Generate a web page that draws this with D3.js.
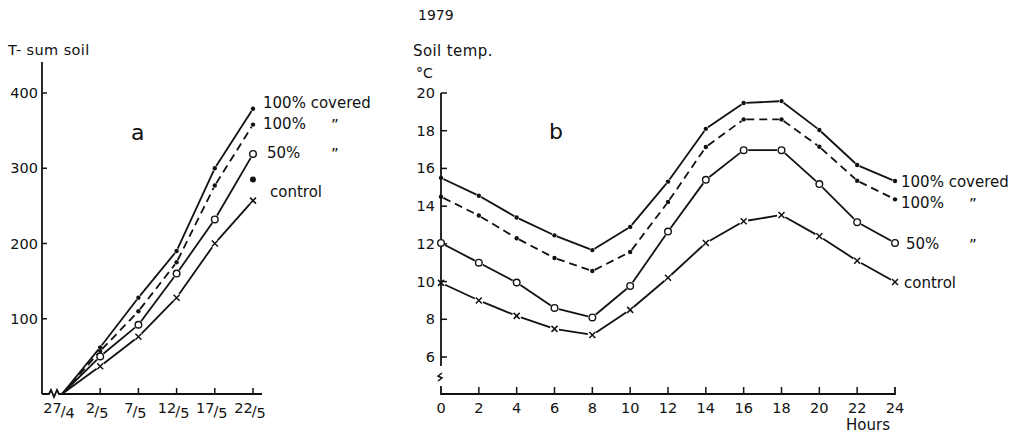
<!DOCTYPE html>
<html><head><meta charset="utf-8">
<script src="https://cdn.jsdelivr.net/npm/d3@7"></script>
<style>
html,body{margin:0;padding:0;background:#fff;}
svg{display:block;}
text{font-family:"DejaVu Sans",sans-serif;fill:#111;}
</style></head><body>
<svg id="c" width="1020" height="434"></svg>
<script>
// ---- Panel a data (T-sum soil) ----
const dateDays = [0, 5, 10, 15, 20, 25];
const dateNum = ["27", "2", "7", "12", "17", "22"];
const dateDen = ["4", "5", "5", "5", "5", "5"];
const aYTicks = [100, 200, 300, 400];
const aCovered100 = [0, 62, 128, 190, 300, 379];
const aDashed100 = [0, 57, 110, 175, 277, 358];
const aHalf50 = [0, 50, 92, 160, 232, 319];
const aControl = [0, 37, 76, 128, 200, 257];
const aExtraPoint = [25, 285];

// ---- Panel b data (Soil temp) ----
const hours = [0, 2, 4, 6, 8, 10, 12, 14, 16, 18, 20, 22, 24];
const bYTicks = [6, 8, 10, 12, 14, 16, 18, 20];
const bCovered100 = [15.5, 14.55, 13.4, 12.45, 11.67, 12.9, 15.3, 18.1, 19.47, 19.57, 18.04, 16.18, 15.33];
const bDashed100 = [14.5, 13.5, 12.3, 11.25, 10.56, 11.57, 14.22, 17.14, 18.6, 18.6, 17.15, 15.35, 14.36];
const bHalf50 = [12.05, 11.0, 9.95, 8.6, 8.1, 9.77, 12.65, 15.4, 16.97, 16.97, 15.17, 13.15, 12.05];
const bControl = [9.93, 9.0, 8.18, 7.49, 7.17, 8.5, 10.2, 12.05, 13.2, 13.53, 12.4, 11.1, 9.98];

const svg = d3.select("#c");
const ink = "#111";
const LW = 1.8;

function drawSeries(g, xs, ys, x, y, marker, dashed, skipFirstMarker) {
  const pts = xs.map((d, i) => [x(d), y(ys[i])]);
  const gap = m => m === "dot" ? 2.6 : 4.5;
  for (let i = 0; i < pts.length - 1; i++) {
    const [x1, y1] = pts[i], [x2, y2] = pts[i + 1];
    const dx = x2 - x1, dy = y2 - y1, L = Math.hypot(dx, dy);
    const g1 = (i === 0 && skipFirstMarker) ? 0 : gap(marker);
    const g2 = gap(marker);
    g.append("line")
      .attr("x1", x1 + dx / L * g1).attr("y1", y1 + dy / L * g1)
      .attr("x2", x2 - dx / L * g2).attr("y2", y2 - dy / L * g2)
      .attr("stroke", ink).attr("stroke-width", LW)
      .attr("stroke-dasharray", dashed ? "8,5" : null);
  }
  pts.forEach((p, i) => {
    if (i === 0 && skipFirstMarker) return;
    if (marker === "dot") {
      g.append("circle").attr("cx", p[0]).attr("cy", p[1]).attr("r", 2.2).attr("fill", ink);
    } else if (marker === "circle") {
      g.append("circle").attr("cx", p[0]).attr("cy", p[1]).attr("r", 3.3)
        .attr("fill", "#fff").attr("stroke", ink).attr("stroke-width", 1.4);
    } else {
      const s = 3;
      g.append("path").attr("d", `M${p[0]-s},${p[1]-s}L${p[0]+s},${p[1]+s}M${p[0]-s},${p[1]+s}L${p[0]+s},${p[1]-s}`)
        .attr("stroke", ink).attr("stroke-width", 1.5);
    }
  });
}

// ================= Panel a =================
const xA = d3.scaleLinear().domain([0, 25]).range([62, 253]);
const yA = d3.scaleLinear().domain([0, 400]).range([394, 93]);
const ga = svg.append("g");

ga.append("line").attr("x1", 42).attr("x2", 42).attr("y1", 62).attr("y2", 394).attr("stroke", ink).attr("stroke-width", 1.8);
aYTicks.forEach(t => {
  ga.append("line").attr("x1", 42).attr("x2", 47).attr("y1", yA(t)).attr("y2", yA(t)).attr("stroke", ink).attr("stroke-width", 1.5);
  ga.append("text").attr("x", 38).attr("y", yA(t) + 5).attr("text-anchor", "end").attr("font-size", 14.5).text(t);
});
ga.append("path").attr("d", `M42,394L49,394L51,390L54,397L57,390L59,394L262,394`)
  .attr("fill", "none").attr("stroke", ink).attr("stroke-width", 1.8);
dateDays.forEach((d, i) => {
  if (i > 0) ga.append("line").attr("x1", xA(d)).attr("x2", xA(d)).attr("y1", 394).attr("y2", 388).attr("stroke", ink).attr("stroke-width", 1.5);
  const t = ga.append("text").attr("x", xA(d) - 3).attr("y", 413).attr("text-anchor", "middle").attr("font-size", 14.5);
  t.append("tspan").text(dateNum[i]);
  t.append("tspan").attr("dy", 3).attr("dx", -1).text("/");
  t.append("tspan").attr("dy", 2).text(dateDen[i]);
});
ga.append("text").attr("x", 8).attr("y", 55).attr("font-size", 14.5).attr("letter-spacing", 0.4).text("T- sum soil");
ga.append("text").attr("x", 131).attr("y", 140).attr("font-size", 22).text("a");

drawSeries(ga, dateDays, aCovered100, xA, yA, "dot", false, true);
drawSeries(ga, dateDays, aDashed100, xA, yA, "dot", true, true);
drawSeries(ga, dateDays, aHalf50, xA, yA, "circle", false, true);
drawSeries(ga, dateDays, aControl, xA, yA, "cross", false, true);
ga.append("circle").attr("cx", xA(aExtraPoint[0])).attr("cy", yA(aExtraPoint[1])).attr("r", 3).attr("fill", ink);

ga.append("text").attr("x", 263).attr("y", 108).attr("font-size", 15).text("100% covered");
ga.append("text").attr("x", 263).attr("y", 129).attr("font-size", 15).text("100%");
ga.append("text").attr("x", 331).attr("y", 131).attr("font-size", 15).text("\u201D");
ga.append("text").attr("x", 267).attr("y", 158).attr("font-size", 15).text("50%");
ga.append("text").attr("x", 331).attr("y", 160).attr("font-size", 15).text("\u201D");
ga.append("text").attr("x", 270).attr("y", 197).attr("font-size", 15).text("control");

// ================= Panel b =================
const xB = d3.scaleLinear().domain([0, 24]).range([441, 895]);
const yB = d3.scaleLinear().domain([6, 20]).range([357, 93]);
const gb = svg.append("g");

gb.append("text").attr("x", 418).attr("y", 20).attr("font-size", 14).text("1979");
gb.append("text").attr("x", 413).attr("y", 56).attr("font-size", 15).attr("letter-spacing", 0.4).text("Soil  temp.");
gb.append("text").attr("x", 416).attr("y", 78).attr("font-size", 14).text("°C");
gb.append("text").attr("x", 549).attr("y", 139).attr("font-size", 22).text("b");

gb.append("line").attr("x1", 441).attr("x2", 441).attr("y1", 93).attr("y2", 366).attr("stroke", ink).attr("stroke-width", 1.8);
gb.append("path").attr("d", "M442,373L438,376L442,378L438,381").attr("fill", "none").attr("stroke", ink).attr("stroke-width", 1.5);
gb.append("path").attr("d", "M441,386L441,394L895,394L895,387").attr("fill", "none").attr("stroke", ink).attr("stroke-width", 1.8);
bYTicks.forEach(t => {
  gb.append("line").attr("x1", 441).attr("x2", 447).attr("y1", yB(t)).attr("y2", yB(t)).attr("stroke", ink).attr("stroke-width", 1.5);
  gb.append("text").attr("x", 435).attr("y", yB(t) + 5).attr("text-anchor", "end").attr("font-size", 14.5).text(t);
});
hours.forEach(h => {
  if (h > 0 && h < 24) gb.append("line").attr("x1", xB(h)).attr("x2", xB(h)).attr("y1", 394).attr("y2", 387).attr("stroke", ink).attr("stroke-width", 1.5);
  gb.append("text").attr("x", xB(h)).attr("y", 413).attr("text-anchor", "middle").attr("font-size", 14.5).text(h);
});
gb.append("text").attr("x", 868).attr("y", 430).attr("text-anchor", "middle").attr("font-size", 15).text("Hours");

drawSeries(gb, hours, bCovered100, xB, yB, "dot", false, false);
drawSeries(gb, hours, bDashed100, xB, yB, "dot", true, false);
drawSeries(gb, hours, bHalf50, xB, yB, "circle", false, false);
drawSeries(gb, hours, bControl, xB, yB, "cross", false, false);

gb.append("text").attr("x", 901).attr("y", 187).attr("font-size", 15).text("100% covered");
gb.append("text").attr("x", 901).attr("y", 208).attr("font-size", 15).text("100%");
gb.append("text").attr("x", 969).attr("y", 210).attr("font-size", 15).text("\u201D");
gb.append("text").attr("x", 906).attr("y", 249).attr("font-size", 15).text("50%");
gb.append("text").attr("x", 969).attr("y", 251).attr("font-size", 15).text("\u201D");
gb.append("text").attr("x", 904).attr("y", 288).attr("font-size", 15).text("control");
</script>
</body></html>
